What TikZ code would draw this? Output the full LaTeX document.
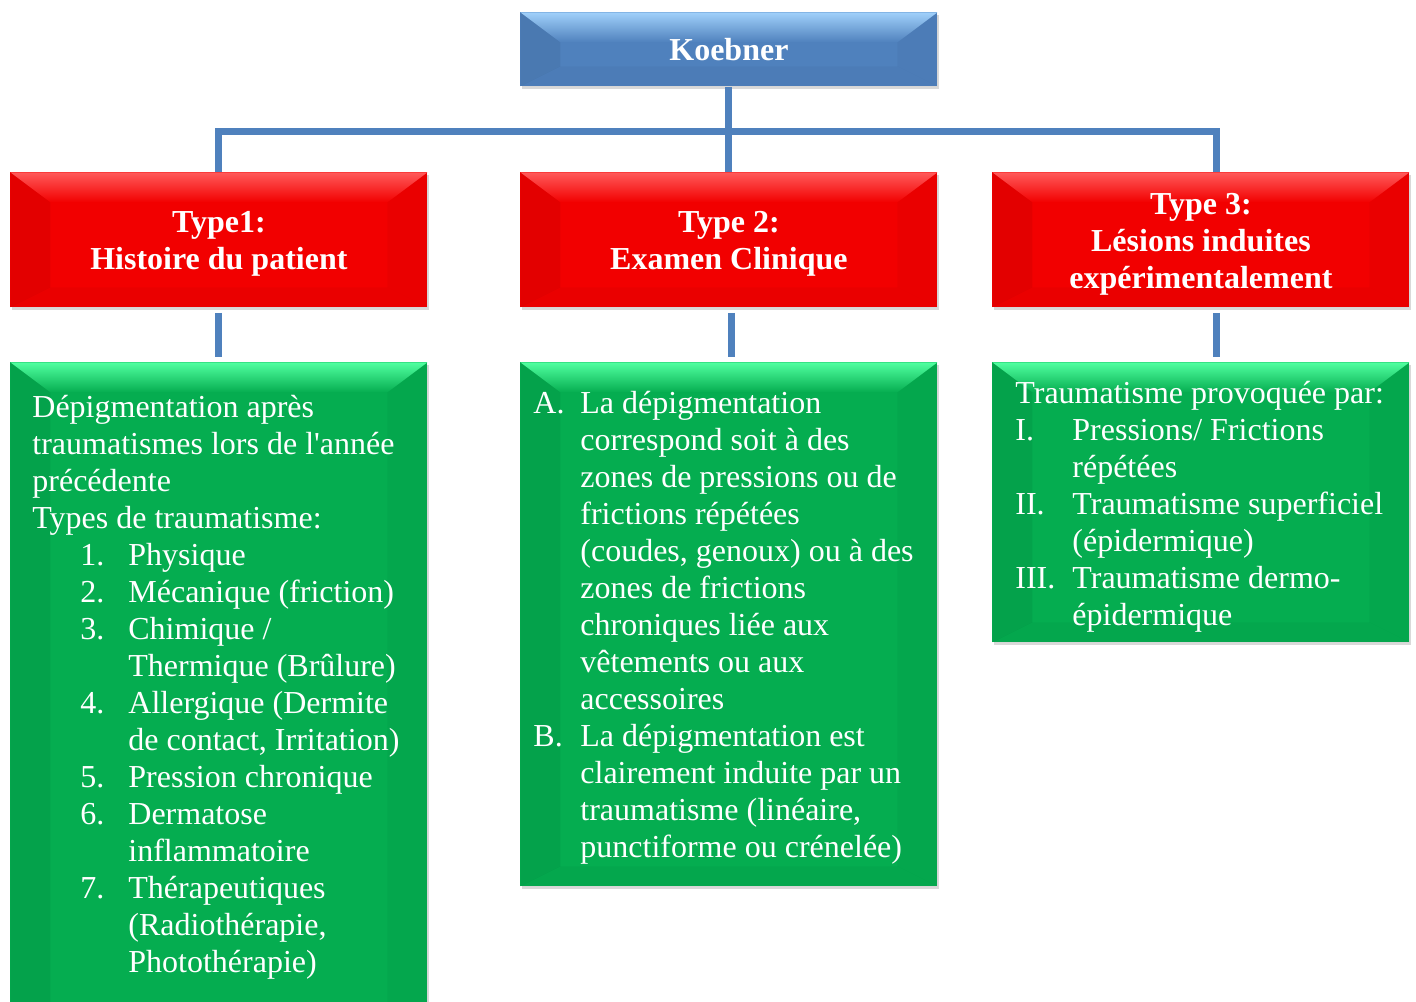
\documentclass[tikz,border=0pt]{standalone}
\usepackage{fontspec}
\setmainfont{Liberation Serif}
\usetikzlibrary{shadows}

\definecolor{kblue}{HTML}{4F81BD}
\definecolor{kbluelt}{HTML}{A0D0FA}
\definecolor{kred}{HTML}{F20000}
\definecolor{kredlt}{HTML}{FF5A5A}
\definecolor{kgreen}{HTML}{05AD50}
\definecolor{kgreenlt}{HTML}{50FFA0}
\definecolor{kline}{HTML}{4F81BD}

\newcommand\klabel[2]{\makebox[#1][l]{#2}}
\newcommand\kstrut{\rule{0pt}{15pt}}

\tikzset{
  bevelled/.style 2 args={fill=#2,
    path picture={
      \coordinate (nw) at (path picture bounding box.north west);
      \coordinate (ne) at (path picture bounding box.north east);
      \coordinate (sw) at (path picture bounding box.south west);
      \coordinate (se) at (path picture bounding box.south east);
      \shade[top color=#1,bottom color=#2] (nw) -- (ne) -- ([shift={(-40,30)}]ne) -- ([shift={(40,30)}]nw) -- cycle;
      \fill[black,opacity=.06] (nw) -- ([shift={(40,30)}]nw) -- ([shift={(40,-20)}]sw) -- (sw) -- cycle;
      \fill[black,opacity=.03] (ne) -- ([shift={(-40,30)}]ne) -- ([shift={(-40,-20)}]se) -- (se) -- cycle;
      \fill[black,opacity=.03] (sw) -- ([shift={(40,-20)}]sw) -- ([shift={(-40,-20)}]se) -- (se) -- cycle;
    }},
  box/.style={anchor=north west, inner sep=0pt, minimum width=208.5pt,
    text=white, align=center, font=\bfseries\fontsize{16}{18.5}\selectfont,
    drop shadow={shadow xshift=1pt, shadow yshift=-1.5pt, opacity=.3}},
  bluebox/.style={box, bevelled={kbluelt}{kblue}, minimum height=37pt},
  redbox/.style={box, bevelled={kredlt}{kred}, minimum height=67.5pt},
  greenbox/.style={box, bevelled={kgreenlt}{kgreen}},
  txt/.style={anchor=north west, inner sep=0pt, align=left, text=white,
    font=\fontsize{16}{18.5}\selectfont},
  conn/.style={draw=kline, line width=3.5pt}
}

\begin{document}
\begin{tikzpicture}[x=0.5pt,y=-0.5pt]
\useasboundingbox (0,0) rectangle (1416,1001);

\node[bluebox] (kb) at (520,12) {Koebner};

\node[redbox] (t1) at (10,172) {\kstrut Type1:\\Histoire du patient};
\node[redbox] (t2) at (520,172) {\kstrut Type 2:\\Examen Clinique};
\node[redbox] (t3) at (992,172) {\kstrut Type 3:\\Lésions induites\\expérimentalement};

\node[greenbox, minimum height=340pt] (g1) at (10,362) {};
\node[greenbox, minimum height=262pt] (g2) at (520,362) {};
\node[greenbox, minimum height=140pt] (g3) at (992,362) {};

\coordinate (bus) at (730,131);
\draw[conn] (kb.south) -- (t2.north);
\draw[conn] (t1.north) |- (bus) -| ([shift={(15.5,0)}]t3.north);

\draw[conn, shorten <=2.5pt, shorten >=2.5pt] (t1.south) -- (g1.north);
\draw[conn, shorten <=2.5pt, shorten >=2.5pt] ([shift={(3,0)}]t2.south) -- ([shift={(3,0)}]g2.north);
\draw[conn, shorten <=2.5pt, shorten >=2.5pt] ([shift={(15.5,0)}]t3.south) -- ([shift={(15.5,0)}]g3.north);

\node[txt] (g1txt) at ([shift={(22,29)}]g1.north west) {\strut Dépigmentation après\\
traumatismes lors de l\textquotesingle année\\
précédente\\
Types de traumatisme:\\
\hspace*{24pt}\klabel{24pt}{1.}Physique\\
\hspace*{24pt}\klabel{24pt}{2.}Mécanique (friction)\\
\hspace*{24pt}\klabel{24pt}{3.}Chimique /\\
\hspace*{48pt}Thermique (Brûlure)\\
\hspace*{24pt}\klabel{24pt}{4.}Allergique (Dermite\\
\hspace*{48pt}de contact, Irritation)\\
\hspace*{24pt}\klabel{24pt}{5.}Pression chronique\\
\hspace*{24pt}\klabel{24pt}{6.}Dermatose\\
\hspace*{48pt}inflammatoire\\
\hspace*{24pt}\klabel{24pt}{7.}Thérapeutiques\\
\hspace*{48pt}(Radiothérapie,\\
\hspace*{48pt}Photothérapie)};

\node[txt] (g2txt) at ([shift={(13,25)}]g2.north west) {\strut\klabel{23.5pt}{A.}La dépigmentation\\
\hspace*{23.5pt}correspond soit à des\\
\hspace*{23.5pt}zones de pressions ou de\\
\hspace*{23.5pt}frictions répétées\\
\hspace*{23.5pt}(coudes, genoux) ou à des\\
\hspace*{23.5pt}zones de frictions\\
\hspace*{23.5pt}chroniques liée aux\\
\hspace*{23.5pt}vêtements ou aux\\
\hspace*{23.5pt}accessoires\\
\klabel{23.5pt}{B.}La dépigmentation est\\
\hspace*{23.5pt}clairement induite par un\\
\hspace*{23.5pt}traumatisme (linéaire,\\
\hspace*{23.5pt}punctiforme ou crénelée)};

\node[txt] (g3txt) at ([shift={(23,15)}]g3.north west) {\strut Traumatisme provoquée par:\\
\klabel{28.5pt}{I.}Pressions/ Frictions\\
\hspace*{28.5pt}répétées\\
\klabel{28.5pt}{II.}Traumatisme superficiel\\
\hspace*{28.5pt}(épidermique)\\
\klabel{28.5pt}{III.}Traumatisme dermo-\\
\hspace*{28.5pt}épidermique};

\end{tikzpicture}
\end{document}
